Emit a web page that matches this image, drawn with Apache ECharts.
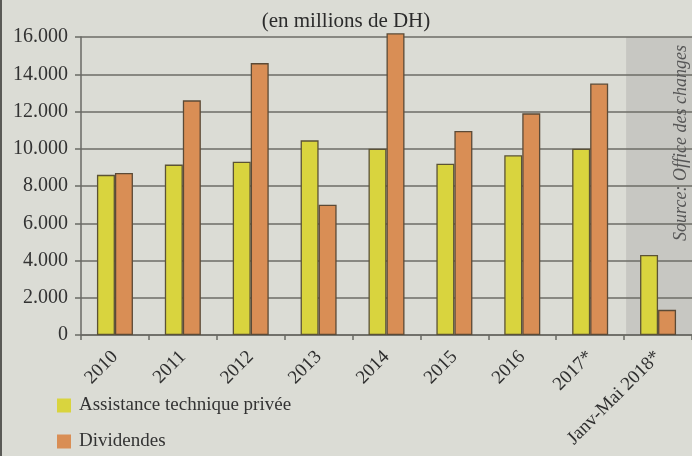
<!DOCTYPE html>
<html><head><meta charset="utf-8">
<script src="https://cdn.jsdelivr.net/npm/echarts@6/dist/echarts.min.js"></script>
<style>html,body{margin:0;padding:0;background:#dbdcd5;}#c{width:692px;height:456px;}</style>
</head><body><div id="c"></div>
<script>
const categories = ['2010','2011','2012','2013','2014','2015','2016','2017*','Janv-Mai 2018*'];
const assistance = [8600, 9150, 9300, 10450, 10000, 9200, 9650, 10000, 4300];
const dividendes = [8700, 12600, 14600, 7000, 16200, 10950, 11900, 13500, 1350];
const yTicks = [0, 2000, 4000, 6000, 8000, 10000, 12000, 14000, 16000];
const seriesNames = ['Assistance technique privée', 'Dividendes'];

const serif = '"Liberation Serif", "DejaVu Serif", serif';
const chart = echarts.init(document.getElementById('c'));
const legendBase = {
  orient: 'vertical', left: 57, padding: 0, itemWidth: 14, itemHeight: 14,
  icon: 'rect', itemStyle: {borderWidth: 0},
  textStyle: {fontFamily: serif, fontSize: 19, color: '#333', padding: [0,0,0,3]}
};
const opt = {
  backgroundColor: '#dbdcd5',
  animation: false,
  title: {
    text: '(en millions de DH)', left: 'center', top: 6,
    textStyle: {fontFamily: serif, fontSize: 21, fontWeight: 'normal', color: '#2b2b2b'}
  },
  legend: [
    Object.assign({}, legendBase, {top: 396, data: [seriesNames[0]]}),
    Object.assign({}, legendBase, {top: 432, data: [seriesNames[1]]})
  ],
  grid: {left: 81, right: -1, top: 37, bottom: 121, containLabel: false},
  xAxis: {
    type: 'category', data: categories,
    axisLine: {lineStyle: {color: '#6a6a64', width: 1.5}},
    axisTick: {show: true, length: 5, lineStyle: {color: '#6a6a64', width: 1.5}},
    axisLabel: {rotate: 45, margin: 19, fontFamily: serif, fontSize: 19, color: '#2f2f2f', interval: 0}
  },
  yAxis: {
    type: 'value', min: yTicks[0], max: yTicks[yTicks.length-1], interval: yTicks[1]-yTicks[0],
    axisLine: {show: true, lineStyle: {color: '#6a6a64', width: 1.5}},
    axisTick: {show: true, length: 6, lineStyle: {color: '#6a6a64', width: 1.5}},
    splitLine: {lineStyle: {color: '#6c6c66', width: 1.6}},
    axisLabel: {margin: 13, fontFamily: serif, fontSize: 20, color: '#333',
      formatter: v => v === 0 ? '0' : (v/1000).toFixed(0) + '.000'}
  },
  series: [
    {name: seriesNames[0], type: 'bar', data: assistance, barWidth: 18, barGap: '0%', clip: false,
     itemStyle: {color: '#d9d43e', borderColor: '#5b5236', borderWidth: 1.3}},
    {name: seriesNames[1], type: 'bar', data: dividendes, barWidth: 18, barGap: '0%', clip: false,
     itemStyle: {color: '#d98e55', borderColor: '#5b4a36', borderWidth: 1.3}}
  ]
};
chart.setOption(opt);
const last = categories[categories.length-1];
const cx = chart.convertToPixel({xAxisIndex: 0}, last);
const prev = chart.convertToPixel({xAxisIndex: 0}, categories[categories.length-2]);
const band = cx - prev;
const yTop = chart.convertToPixel({yAxisIndex: 0}, yTicks[yTicks.length-1]);
const yBot = chart.convertToPixel({yAxisIndex: 0}, 0);
chart.setOption({
  graphic: [
    {type: 'rect', z: -1, shape: {x: cx - band/2 + 2, y: yTop, width: 692 - (cx - band/2 + 2), height: yBot - yTop},
     style: {fill: '#c7c7c2'}},
    {type: 'text', x: 681, y: 143, rotation: Math.PI/2,
     style: {text: 'Source: Office des changes', fontFamily: serif, fontStyle: 'italic', fontSize: 18,
       fill: '#555', align: 'center', verticalAlign: 'middle'}},
    {type: 'rect', shape: {x: 0, y: 0, width: 2, height: 456}, style: {fill: '#5a5a56'}}
  ]
});
</script></body></html>
